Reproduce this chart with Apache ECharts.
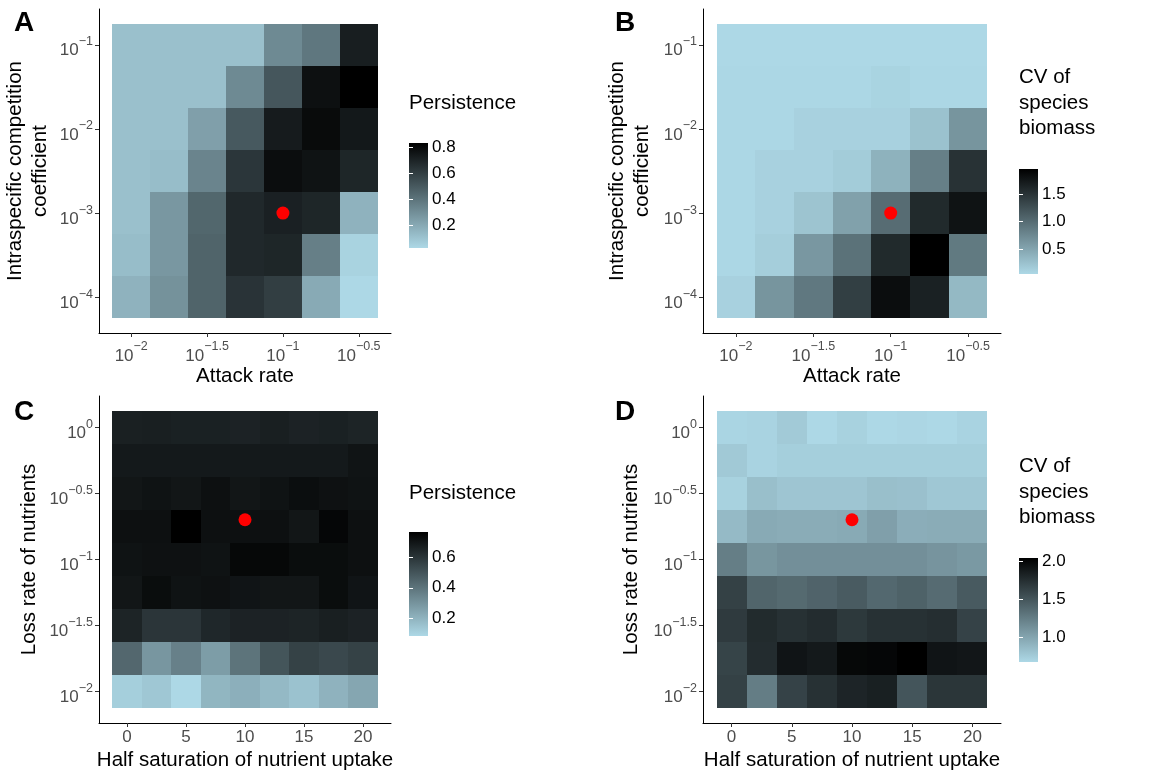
<!DOCTYPE html>
<html>
<head>
<meta charset="utf-8">
<script src="https://cdn.jsdelivr.net/npm/echarts@6/dist/echarts.min.js"></script>
<style>
  html, body { margin: 0; padding: 0; background: #ffffff; }
  #chart { width: 1167px; height: 774px; }
</style>
</head>
<body>
<div id="chart"></div>
<script>
// ---- Panels A & B: attack rate (x) vs intraspecific competition (y), log10 exponents ----
const attackRateExp = [-2, -1.75, -1.5, -1.25, -1, -0.75, -0.5];
const competitionExp = [-4, -3.5, -3, -2.5, -2, -1.5, -1];
const attackRateTicks = [-2, -1.5, -1, -0.5];
const competitionTicks = [-4, -3, -2, -1];

// rows follow competitionExp (bottom to top), columns follow attackRateExp
const persistenceAttack = [
  [0.17, 0.29, 0.46, 0.64, 0.60, 0.20, 0.03],
  [0.13, 0.27, 0.46, 0.68, 0.69, 0.36, 0.05],
  [0.12, 0.27, 0.45, 0.68, 0.71, 0.69, 0.17],
  [0.12, 0.13, 0.34, 0.63, 0.78, 0.76, 0.69],
  [0.12, 0.12, 0.24, 0.50, 0.73, 0.79, 0.74],
  [0.12, 0.12, 0.12, 0.32, 0.51, 0.77, 0.83],
  [0.12, 0.12, 0.12, 0.12, 0.32, 0.39, 0.72]
];
const cvAttack = [
  [0.10, 0.64, 0.89, 1.40, 1.84, 1.67, 0.32],
  [0.05, 0.13, 0.62, 0.95, 1.59, 1.96, 0.88],
  [0.05, 0.10, 0.22, 0.53, 1.00, 1.59, 1.79],
  [0.05, 0.10, 0.10, 0.15, 0.38, 0.83, 1.52],
  [0.05, 0.05, 0.10, 0.10, 0.10, 0.24, 0.64],
  [0.05, 0.05, 0.05, 0.05, 0.08, 0.05, 0.05],
  [0.04, 0.04, 0.04, 0.04, 0.04, 0.04, 0.04]
];

// ---- Panels C & D: half saturation (x) vs nutrient loss rate (y, log10 exponent) ----
const halfSaturation = [0, 2.5, 5, 7.5, 10, 12.5, 15, 17.5, 20];
const lossRateExp = [-2, -1.75, -1.5, -1.25, -1, -0.75, -0.5, -0.25, 0];
const halfSaturationTicks = [0, 5, 10, 15, 20];
const lossRateTicks = [-2, -1.5, -1, -0.5, 0];

// rows follow lossRateExp (bottom to top), columns follow halfSaturation
const persistenceNutrient = [
  [0.11, 0.135, 0.08, 0.19, 0.21, 0.18, 0.15, 0.20, 0.24],
  [0.44, 0.29, 0.36, 0.27, 0.40, 0.50, 0.56, 0.54, 0.56],
  [0.655, 0.60, 0.60, 0.645, 0.66, 0.66, 0.655, 0.67, 0.66],
  [0.70, 0.73, 0.71, 0.715, 0.705, 0.70, 0.70, 0.73, 0.705],
  [0.71, 0.715, 0.715, 0.71, 0.745, 0.745, 0.73, 0.73, 0.72],
  [0.72, 0.72, 0.77, 0.72, 0.72, 0.72, 0.70, 0.75, 0.72],
  [0.70, 0.71, 0.70, 0.72, 0.70, 0.71, 0.725, 0.715, 0.71],
  [0.69, 0.69, 0.69, 0.69, 0.69, 0.69, 0.69, 0.69, 0.706],
  [0.668, 0.67, 0.665, 0.665, 0.66, 0.672, 0.66, 0.665, 0.655]
];
const cvNutrient = [
  [1.63, 1.25, 1.62, 1.73, 1.81, 1.84, 1.50, 1.70, 1.70],
  [1.61, 1.76, 1.91, 1.88, 1.99, 2.00, 2.04, 1.91, 1.90],
  [1.67, 1.77, 1.73, 1.76, 1.68, 1.73, 1.73, 1.75, 1.62],
  [1.63, 1.40, 1.37, 1.41, 1.46, 1.38, 1.42, 1.36, 1.47],
  [1.24, 1.09, 1.13, 1.13, 1.13, 1.13, 1.13, 1.10, 1.07],
  [0.86, 0.96, 0.95, 0.95, 0.96, 1.03, 0.94, 0.95, 0.95],
  [0.71, 0.83, 0.79, 0.79, 0.79, 0.83, 0.82, 0.78, 0.78],
  [0.765, 0.70, 0.73, 0.73, 0.73, 0.73, 0.73, 0.73, 0.73],
  [0.69, 0.70, 0.76, 0.67, 0.71, 0.67, 0.68, 0.67, 0.70]
];

// default parameter set, marked in red
const focalAttack = [0.1, 0.001];   // attack rate, competition coefficient
const focalNutrient = [10, 0.2];    // half saturation, loss rate

// colour bar ticks
const persistenceBarTicks = [0.2, 0.4, 0.6, 0.8];
const cvBarTicks = [0.5, 1.0, 1.5, 2.0];

// ---- drawing ----
const LOW = '#ADD8E6';
const HIGH = '#000000';
const FONT = "'Liberation Sans', Arial, Helvetica, sans-serif";
const TICK_GREY = '#4D4D4D';

function toCells(xs, ys, rows) {
  const out = [];
  rows.forEach((row, j) => row.forEach((v, i) => out.push([xs[i], ys[j], v])));
  return out;
}
function extent(rows) {
  const flat = rows.flat();
  return [Math.min(...flat), Math.max(...flat)];
}
function step(values) { return values[1] - values[0]; }
// tile extent plus 5% breathing room on each side
function padded(values) {
  const s = step(values);
  const lo = values[0] - s / 2, hi = values[values.length - 1] + s / 2;
  const pad = (hi - lo) * 0.05;
  return [lo - pad, hi + pad];
}
function powLabel(v) {
  const e = String(Math.round(v * 100) / 100).replace('-', '\u2212');
  return '{b|10}{s|' + e + '}';
}
const powRich = {
  b: { fontSize: 17, color: TICK_GREY, fontFamily: FONT, lineHeight: 24, verticalAlign: 'bottom' },
  s: { fontSize: 12.5, color: TICK_GREY, fontFamily: FONT, lineHeight: 11, verticalAlign: 'top' }
};

function tileRenderer(dx, dy) {
  return function (params, api) {
    const x = api.value(0), y = api.value(1);
    const p0 = api.coord([x - dx / 2, y + dy / 2]);
    const p1 = api.coord([x + dx / 2, y - dy / 2]);
    const x0 = Math.round(p0[0]), y0 = Math.round(p0[1]);
    const x1 = Math.round(p1[0]), y1 = Math.round(p1[1]);
    return {
      type: 'rect',
      shape: { x: x0, y: y0, width: x1 - x0, height: y1 - y0 },
      style: { fill: api.visual('color') }
    };
  };
}

const panels = [
  {
    letter: 'A', letterPos: [14, 23],
    grid: { left: 99, top: 9, width: 292, height: 324 },
    xs: attackRateExp, ys: competitionExp, rows: persistenceAttack,
    xTicks: attackRateTicks, yTicks: competitionTicks, xPow: true,
    xName: 'Attack rate', xGap: 30,
    yName: 'Intraspecific competition\ncoefficient', yGap: 46,
    focal: [Math.log10(focalAttack[0]), Math.log10(focalAttack[1])],
    legendTitle: 'Persistence', legendTitleY: 103.5, multi: false,
    bar: { left: 409, top: 143, width: 19, height: 105 }, barTicks: persistenceBarTicks
  },
  {
    letter: 'B', letterPos: [615, 23],
    grid: { left: 703, top: 9, width: 298, height: 324 },
    xs: attackRateExp, ys: competitionExp, rows: cvAttack,
    xTicks: attackRateTicks, yTicks: competitionTicks, xPow: true,
    xName: 'Attack rate', xGap: 30,
    yName: 'Intraspecific competition\ncoefficient', yGap: 48,
    focal: [Math.log10(focalAttack[0]), Math.log10(focalAttack[1])],
    legendTitle: 'CV of\nspecies\nbiomass', legendTitleY: 65, multi: true,
    bar: { left: 1019, top: 169, width: 19, height: 105 }, barTicks: cvBarTicks
  },
  {
    letter: 'C', letterPos: [14, 412.5],
    grid: { left: 99, top: 396, width: 292, height: 327 },
    xs: halfSaturation, ys: lossRateExp, rows: persistenceNutrient,
    xTicks: halfSaturationTicks, yTicks: lossRateTicks, xPow: false,
    xName: 'Half saturation of nutrient uptake', xGap: 27,
    yName: 'Loss rate of nutrients', yGap: 57,
    focal: [focalNutrient[0], Math.log10(focalNutrient[1])],
    legendTitle: 'Persistence', legendTitleY: 493, multi: false,
    bar: { left: 409, top: 532, width: 19, height: 104 }, barTicks: persistenceBarTicks
  },
  {
    letter: 'D', letterPos: [615, 412.5],
    grid: { left: 703, top: 396, width: 298, height: 327 },
    xs: halfSaturation, ys: lossRateExp, rows: cvNutrient,
    xTicks: halfSaturationTicks, yTicks: lossRateTicks, xPow: false,
    xName: 'Half saturation of nutrient uptake', xGap: 27,
    yName: 'Loss rate of nutrients', yGap: 59,
    focal: [focalNutrient[0], Math.log10(focalNutrient[1])],
    legendTitle: 'CV of\nspecies\nbiomass', legendTitleY: 454, multi: true,
    bar: { left: 1019, top: 558, width: 19, height: 104 }, barTicks: cvBarTicks
  }
];

const grids = [], xAxes = [], yAxes = [], series = [], visualMaps = [], graphics = [];

// heatmap panels
panels.forEach((p, i) => {
  const [xMin, xMax] = padded(p.xs);
  const [yMin, yMax] = padded(p.ys);
  grids.push(Object.assign({ containLabel: false, outerBoundsMode: 'none' }, p.grid));

  xAxes.push({
    type: 'value', gridIndex: i, position: 'bottom', min: xMin, max: xMax,
    name: p.xName, nameLocation: 'middle', nameGap: p.xGap,
    nameTextStyle: { fontSize: 20.5, color: '#000', fontFamily: FONT },
    axisLine: { show: true, onZero: false, lineStyle: { color: '#000', width: 1 } },
    axisTick: { show: true, length: 4, lineStyle: { color: '#333', width: 1 }, customValues: p.xTicks },
    axisLabel: p.xPow
      ? { customValues: p.xTicks, margin: 7.5, formatter: powLabel, rich: powRich }
      : { customValues: p.xTicks, margin: 6, fontSize: 17, color: TICK_GREY, fontFamily: FONT,
          formatter: v => String(v) },
    splitLine: { show: false }
  });
  yAxes.push({
    type: 'value', gridIndex: i, position: 'left', min: yMin, max: yMax,
    name: p.yName, nameLocation: 'middle', nameGap: p.yGap, nameRotate: 90,
    nameTextStyle: { fontSize: 20.5, color: '#000', fontFamily: FONT, lineHeight: 25, align: 'center' },
    axisLine: { show: true, onZero: false, lineStyle: { color: '#000', width: 1 } },
    axisTick: { show: true, length: 4, lineStyle: { color: '#333', width: 1 }, customValues: p.yTicks },
    axisLabel: { customValues: p.yTicks, margin: 6, formatter: powLabel, rich: powRich, padding: [5, 0, 0, 0] },
    splitLine: { show: false }
  });
});

// colour bars: one grid each, value axis spanning the data range
panels.forEach((p, i) => {
  const [vMin, vMax] = extent(p.rows);
  const ticks = p.barTicks.filter(t => t >= vMin && t <= vMax);
  const gi = 4 + i;
  grids.push(Object.assign({ containLabel: false, outerBoundsMode: 'none' }, p.bar));
  xAxes.push({ type: 'value', gridIndex: gi, min: 0, max: 1, show: false });
  const common = {
    type: 'value', gridIndex: gi, min: vMin, max: vMax, z: 10,
    axisLine: { show: false },
    splitLine: { show: false },
    axisTick: { show: true, inside: true, length: 4, customValues: ticks,
      lineStyle: { color: '#ffffff', width: 1 } }
  };
  yAxes.push(Object.assign({}, common, {
    position: 'right',
    axisLabel: { customValues: ticks, margin: 4, fontSize: 17, color: '#000', fontFamily: FONT,
      formatter: v => v.toFixed(1) }
  }));
  yAxes.push(Object.assign({}, common, {
    position: 'left',
    axisLabel: { show: false }
  }));
});

panels.forEach((p, i) => {
  const [vMin, vMax] = extent(p.rows);
  const heatIndex = series.length;
  series.push({
    type: 'custom', xAxisIndex: i, yAxisIndex: i,
    data: toCells(p.xs, p.ys, p.rows),
    encode: { x: 0, y: 1 },
    renderItem: tileRenderer(step(p.xs), step(p.ys)),
    silent: true, z: 2
  });
  series.push({
    type: 'scatter', xAxisIndex: i, yAxisIndex: i,
    data: [p.focal], symbol: 'circle', symbolSize: 13,
    itemStyle: { color: '#FF0000', opacity: 1 }, silent: true, z: 5
  });
  series.push({
    type: 'custom', xAxisIndex: 4 + i, yAxisIndex: 4 + 2 * i,
    data: [[0.5, (vMin + vMax) / 2]],
    encode: { x: 0, y: 1 },
    renderItem: function (params, api) {
      const a = api.coord([0, vMax]);
      const b = api.coord([1, vMin]);
      return {
        type: 'rect',
        shape: { x: a[0], y: a[1], width: b[0] - a[0], height: b[1] - a[1] },
        style: {
          fill: { type: 'linear', x: 0, y: 0, x2: 0, y2: 1,
            colorStops: [{ offset: 0, color: HIGH }, { offset: 1, color: LOW }] }
        }
      };
    },
    silent: true, z: 2
  });
  visualMaps.push({
    type: 'continuous', show: false, seriesIndex: heatIndex, dimension: 2,
    min: vMin, max: vMax, inRange: { color: [LOW, HIGH] }
  });

  graphics.push({
    type: 'text', left: p.letterPos[0], top: p.letterPos[1] - 14,
    style: { text: p.letter, fontSize: 28, fontWeight: 'bold', fontFamily: FONT, fill: '#000' }
  });
  graphics.push({
    type: 'text',
    x: p.bar.left, y: p.legendTitleY,
    style: {
      text: p.legendTitle, fontSize: 20.5, fontFamily: FONT, fill: '#000',
      lineHeight: 25.5, align: 'left', verticalAlign: p.multi ? 'top' : 'middle'
    }
  });
});

const chart = echarts.init(document.getElementById('chart'), null, { renderer: 'canvas' });
chart.setOption({
  animation: false,
  backgroundColor: '#ffffff',
  textStyle: { fontFamily: FONT },
  grid: grids,
  xAxis: xAxes,
  yAxis: yAxes,
  visualMap: visualMaps,
  series: series,
  graphic: graphics
});
</script>
</body>
</html>
